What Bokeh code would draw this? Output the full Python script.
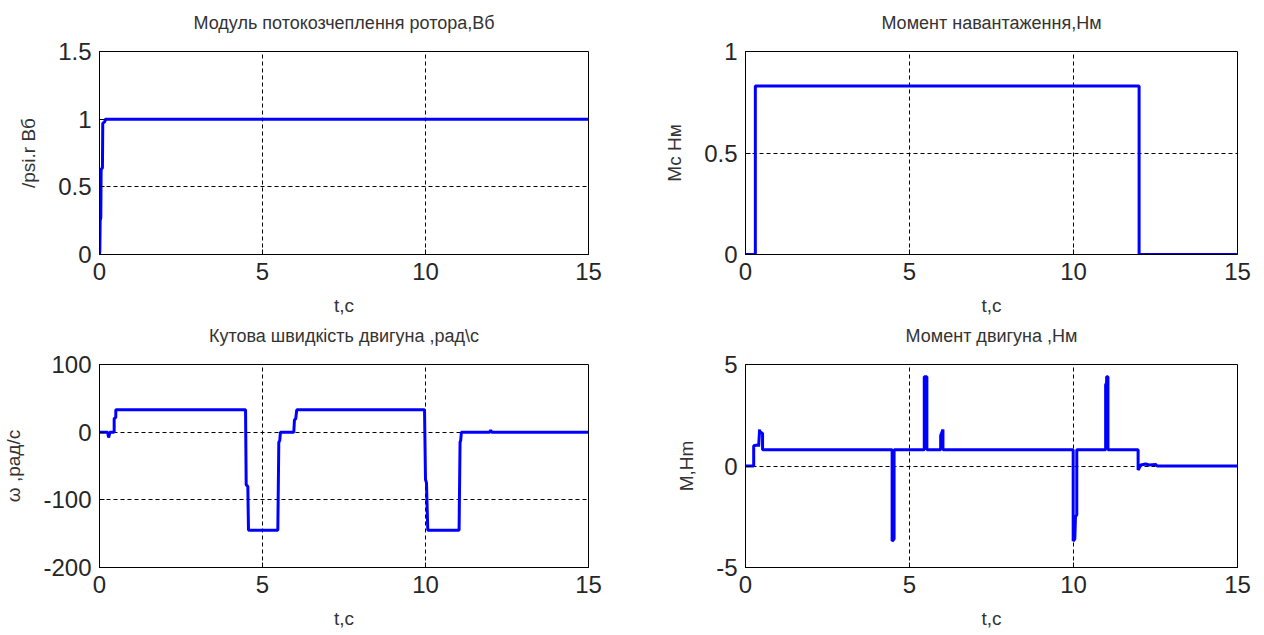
from bokeh.plotting import figure
from bokeh.layouts import gridplot
from bokeh.models import Range1d, FixedTicker, CustomJSTickFormatter, LinearAxis
from bokeh.embed import file_html
from bokeh.resources import INLINE

# ---------------- data ----------------
x_ticks = [0, 5, 10, 15]

# rotor flux modulus
t_psi = [0, 0.01, 0.02, 0.04, 0.05, 0.09, 0.1, 0.16, 0.18, 14.9, 15]
psi = [0, 0.03, 0.25, 0.27, 0.63, 0.64, 0.97, 0.98, 1.0, 1.0, 1.0]
psi_ticks = [0, 0.5, 1, 1.5]

# load torque
t_mc = [0, 0.3, 0.3, 12, 12, 15]
mc = [0, 0, 0.83, 0.83, 0, 0]
mc_ticks = [0, 0.5, 1]

# angular speed
t_w = [0, 0.25, 0.28, 0.32, 0.45, 0.45, 0.5, 0.5, 4.48, 4.5, 4.55, 4.57, 5.47, 5.5,
       5.53, 5.55, 5.96, 5.98, 6.02, 6.05, 9.97, 10.0, 10.03, 10.07, 11.03, 11.06,
       11.08, 11.1, 11.97, 12.0, 12.03, 15]
w = [0, 0, -8, 0, 0, 20, 22, 33, 33, -78, -80, -145, -145, -15,
     -12, 0, 0, 18, 20, 33, 33, -70, -75, -145, -145, -15,
     -12, 0, 0, 3, 0, 0]
w_ticks = [-200, -100, 0, 100]

# motor torque
t_m = [0, 0.25, 0.25, 0.4, 0.4, 0.43, 0.43, 0.52, 0.52, 4.47, 4.47, 4.53, 4.53,
       5.45, 5.45, 5.53, 5.53, 5.95, 5.95, 6.02, 6.02, 9.99, 9.99, 10.04, 10.06,
       10.1, 10.1, 10.98, 10.98, 11.01, 11.01, 11.05, 11.05, 11.97, 11.97, 12.05,
       12.2, 12.3, 12.5, 12.55, 15]
m = [0, 0, 1.0, 1.05, 0.95, 1.8, 1.7, 1.6, 0.8, 0.8, -3.7, -3.6, 0.8,
     0.8, 4.4, 4.4, 0.8, 0.8, 1.5, 1.8, 0.8, 0.8, -3.7, -3.6, -2.5,
     -2.4, 0.8, 0.8, 4.0, 4.1, 4.4, 4.4, 0.8, 0.8, -0.2, 0.05,
     0.1, 0.05, 0.08, 0, 0]
m_ticks = [-5, 0, 5]

titles = ["Модуль потокозчеплення ротора,Вб", "Момент навантаження,Нм",
          "Кутова швидкість двигуна ,рад\\с", "Момент двигуна ,Нм"]
ylabels = ["/psi.r Вб", "Мс Нм", "ω ,рад/с", "M,Hm"]
xlabel = "t,c"

FONT = "Liberation Sans"


def make(title, ylabel, xs, ys, yticks, left, right, top, bottom, height):
    p = figure(width=632, height=height, output_backend="svg", toolbar_location=None,
               x_range=Range1d(0, 15), y_range=Range1d(yticks[0], yticks[-1]),
               min_border_left=left, min_border_right=right,
               min_border_top=top, min_border_bottom=bottom)
    p.outline_line_color = "black"
    p.outline_line_width = 1
    p.outline_line_alpha = 1
    p.background_fill_color = "white"
    p.border_fill_color = "white"

    xax = p.below[0]
    yax = p.left[0]
    fmt = "return tick.toString();"
    xax.ticker = FixedTicker(ticks=x_ticks)
    yax.ticker = FixedTicker(ticks=yticks)
    xax.formatter = CustomJSTickFormatter(code=fmt)
    yax.formatter = CustomJSTickFormatter(code=fmt)
    for ax in (xax, yax):
        ax.axis_line_color = "black"
        ax.major_tick_in = 5
        ax.major_tick_out = 0
        ax.major_tick_line_color = "black"
        ax.minor_tick_line_color = None
        ax.major_label_text_font = FONT
        ax.major_label_text_font_size = "24px"
        ax.major_label_text_color = "#262626"
        ax.major_label_standoff = 8
        ax.axis_label_text_font = FONT
        ax.axis_label_text_font_size = "19px"
        ax.axis_label_text_font_style = "normal"
        ax.axis_label_text_color = "#333333"
    xax.axis_label = xlabel
    xax.axis_label_standoff = 12
    yax.axis_label = ylabel
    yax.axis_label_standoff = 16

    # title drawn as the label of an empty axis above the frame
    tax = LinearAxis(ticker=FixedTicker(ticks=[]), axis_label=title,
                     axis_line_color=None, major_tick_line_color=None,
                     minor_tick_line_color=None, major_tick_in=0, major_tick_out=0,
                     minor_tick_in=0, minor_tick_out=0, major_label_standoff=0,
                     major_label_text_font_size="0px",
                     axis_label_standoff=19, axis_label_text_font=FONT,
                     axis_label_text_font_size="18px",
                     axis_label_text_font_style="normal",
                     axis_label_text_color="#333333")
    p.add_layout(tax, "above")

    p.xgrid.ticker = FixedTicker(ticks=x_ticks)
    p.ygrid.ticker = FixedTicker(ticks=yticks)
    for g in (p.xgrid[0], p.ygrid[0]):
        g.grid_line_color = "black"
        g.grid_line_dash = "4 3"
        g.grid_line_width = 1
        g.grid_line_alpha = 1

    p.line(xs, ys, line_color="#0000FF", line_width=3)
    return p


p1 = make(titles[0], ylabels[0], t_psi, psi, psi_ticks, 96, 44, 51, 64, 318)
p2 = make(titles[1], ylabels[1], t_mc, mc, mc_ticks, 113, 27, 51, 64, 318)
p3 = make(titles[2], ylabels[2], t_w, w, w_ticks, 96, 44, 46, 68, 317)
p4 = make(titles[3], ylabels[3], t_m, m, m_ticks, 113, 27, 46, 68, 317)

layout = gridplot([[p1, p2], [p3, p4]], toolbar_location=None)

open("out.html", "w").write(file_html(layout, INLINE))
